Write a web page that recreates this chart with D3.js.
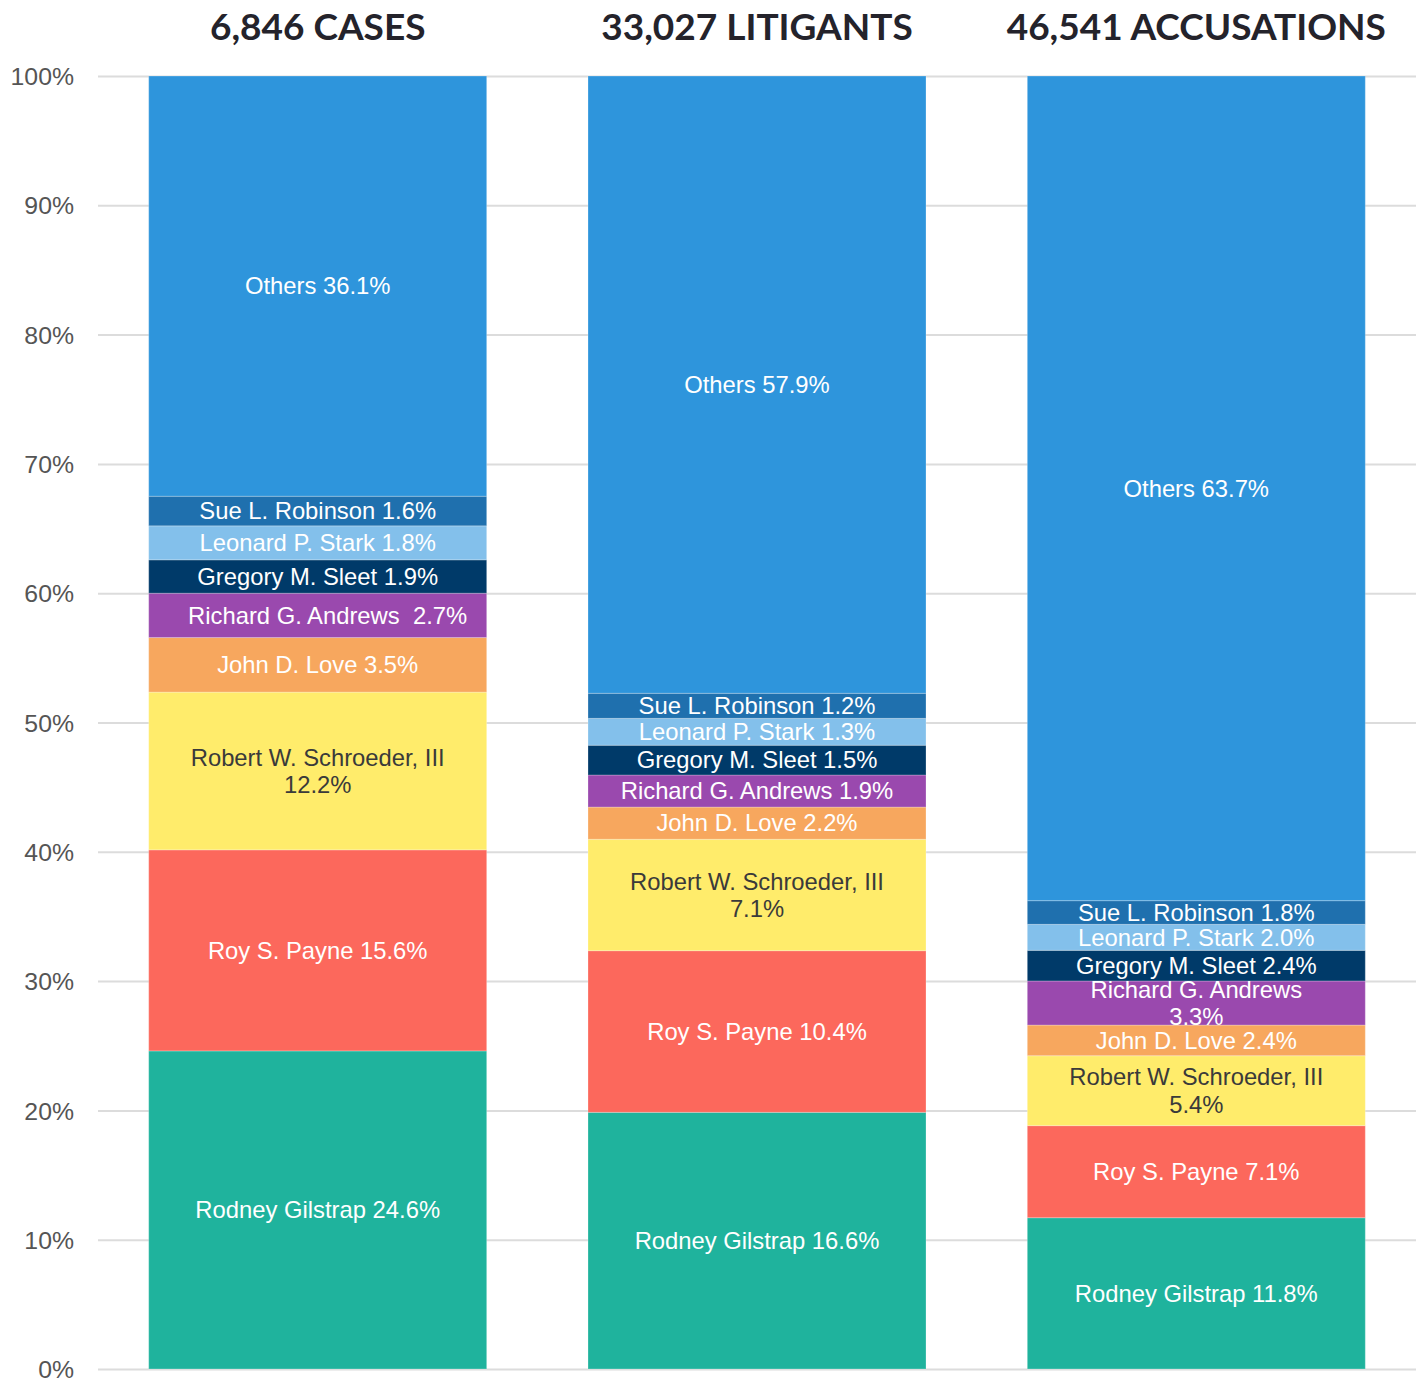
<!DOCTYPE html>
<html>
<head>
<meta charset="utf-8">
<script src="https://cdn.jsdelivr.net/npm/d3@7"></script>
<style>
  body { margin: 0; background: #fff; }
  .tick text { font-family: "Liberation Sans", Arial, sans-serif; }
</style>
</head>
<body>
<div id="chart"></div>
<script>
// Data (shares of each bar in %; labels carry the printed numbers)
var titles = ["6,846 CASES", "33,027 LITIGANTS", "46,541 ACCUSATIONS"];
var judges = ["Rodney Gilstrap", "Roy S. Payne", "Robert W. Schroeder, III", "John D. Love",
    "Richard G. Andrews", "Gregory M. Sleet", "Leonard P. Stark", "Sue L. Robinson", "Others"];
var cases = [24.6, 15.55, 12.2, 4.22, 3.43, 2.58, 2.63, 2.29, 32.5];
var litigants = [19.85, 12.5, 8.62, 2.49, 2.48, 2.3, 2.08, 1.94, 47.74];
var accusations = [11.7, 7.12, 5.41, 2.37, 3.41, 2.37, 2.01, 1.83, 63.78];
var casesLabels = ["Rodney Gilstrap 24.6%", "Roy S. Payne 15.6%", "Robert W. Schroeder, III\n12.2%", "John D. Love 3.5%",
    "   Richard G. Andrews  2.7%", "Gregory M. Sleet 1.9%", "Leonard P. Stark 1.8%", "Sue L. Robinson 1.6%", "Others 36.1%"];
var litigantsLabels = ["Rodney Gilstrap 16.6%", "Roy S. Payne 10.4%", "Robert W. Schroeder, III\n7.1%", "John D. Love 2.2%",
    "Richard G. Andrews 1.9%", "Gregory M. Sleet 1.5%", "Leonard P. Stark 1.3%", "Sue L. Robinson 1.2%", "Others 57.9%"];
var accusationsLabels = ["Rodney Gilstrap 11.8%", "Roy S. Payne 7.1%", "Robert W. Schroeder, III\n5.4%", "John D. Love 2.4%",
    "Richard G. Andrews\n3.3%", "Gregory M. Sleet 2.4%", "Leonard P. Stark 2.0%", "Sue L. Robinson 1.8%", "Others 63.7%"];
var colors = ["#1fb39d", "#fc685c", "#ffec6b", "#f7a75e", "#9a49ae", "#003a69", "#83c0eb", "#1f70ae", "#2e95dc"];
var textColors = ["#fff", "#fff", "#3a3a3a", "#fff", "#fff", "#fff", "#fff", "#fff", "#fff"];
var yTicks = [0, 0.1, 0.2, 0.3, 0.4, 0.5, 0.6, 0.7, 0.8, 0.9, 1];

var series = [cases, litigants, accusations];
var labels = [casesLabels, litigantsLabels, accusationsLabels];

// Dimensions
var width = 1422, height = 1378,
    margin = { left: 98, top: 76, right: 6, bottom: 9 },
    innerW = width - margin.left - margin.right,
    innerH = height - margin.top - margin.bottom;

var svg = d3.select("#chart").append("svg")
    .attr("width", width)
    .attr("height", height);

var g = svg.append("g")
    .attr("transform", "translate(" + margin.left + "," + margin.top + ")");

var x = d3.scaleBand()
    .domain(titles)
    .range([0, innerW])
    .paddingInner(0.2306)
    .paddingOuter(0.1154);

var y = d3.scaleLinear()
    .domain([0, 1])
    .range([innerH, 0]);

// Gridlines + tick labels
var yAxis = g.append("g")
    .call(d3.axisLeft(y).tickValues(yTicks).tickFormat(d3.format(".0%")).tickSize(-innerW).tickPadding(24));
yAxis.select(".domain").remove();
yAxis.selectAll(".tick line").attr("stroke", "#dcdcdc").attr("stroke-width", 2);
yAxis.selectAll(".tick text")
    .attr("fill", "#555")
    .style("font-size", "24.8px")
    .attr("dy", "0.35em");

// Build rows for the stack
var rows = titles.map(function(t, i) {
    var row = { title: t, idx: i };
    judges.forEach(function(j, k) { row[j] = series[i][k]; });
    return row;
});

var stack = d3.stack()
    .keys(judges)
    .offset(d3.stackOffsetExpand);
var layers = stack(rows);

var layer = g.selectAll("g.layer")
    .data(layers)
    .enter().append("g")
    .attr("class", "layer")
    .attr("fill", function(d, k) { return colors[k]; });

layer.selectAll("rect")
    .data(function(d) { return d; })
    .enter().append("rect")
    .attr("x", function(d) { return x(d.data.title); })
    .attr("y", function(d) { return y(d[1]); })
    .attr("width", x.bandwidth())
    .attr("height", function(d) { return y(d[0]) - y(d[1]); })
    .attr("stroke", "rgba(255,255,255,0.25)")
    .attr("stroke-width", 1);

// Segment labels
layers.forEach(function(ly, k) {
    ly.forEach(function(d) {
        var i = d.data.idx;
        var lines = labels[i][k].split("\n");
        var cx = x(d.data.title) + x.bandwidth() / 2,
            cy = (y(d[0]) + y(d[1])) / 2,
            lineHeight = 27.5,
            y0 = cy - (lines.length - 1) * lineHeight / 2;
        var text = g.append("text")
            .attr("text-anchor", "middle")
            .attr("fill", textColors[k])
            .style("font-family", "'Liberation Sans', Arial, sans-serif")
            .style("font-size", "23.8px")
            .style("white-space", "pre");
        lines.forEach(function(l, n) {
            text.append("tspan")
                .attr("x", cx)
                .attr("y", y0 + n * lineHeight)
                .attr("dy", "0.35em")
                .text(l);
        });
    });
});

// Titles
g.selectAll("text.title")
    .data(titles)
    .enter().append("text")
    .attr("class", "title")
    .attr("x", function(d) { return x(d) + x.bandwidth() / 2; })
    .attr("y", -36)
    .attr("text-anchor", "middle")
    .attr("fill", "#24232b")
    .style("font-family", "Lato, sans-serif")
    .style("font-weight", "bold")
    .style("font-size", "37px")
    .text(function(d) { return d; });
</script>
</body>
</html>
